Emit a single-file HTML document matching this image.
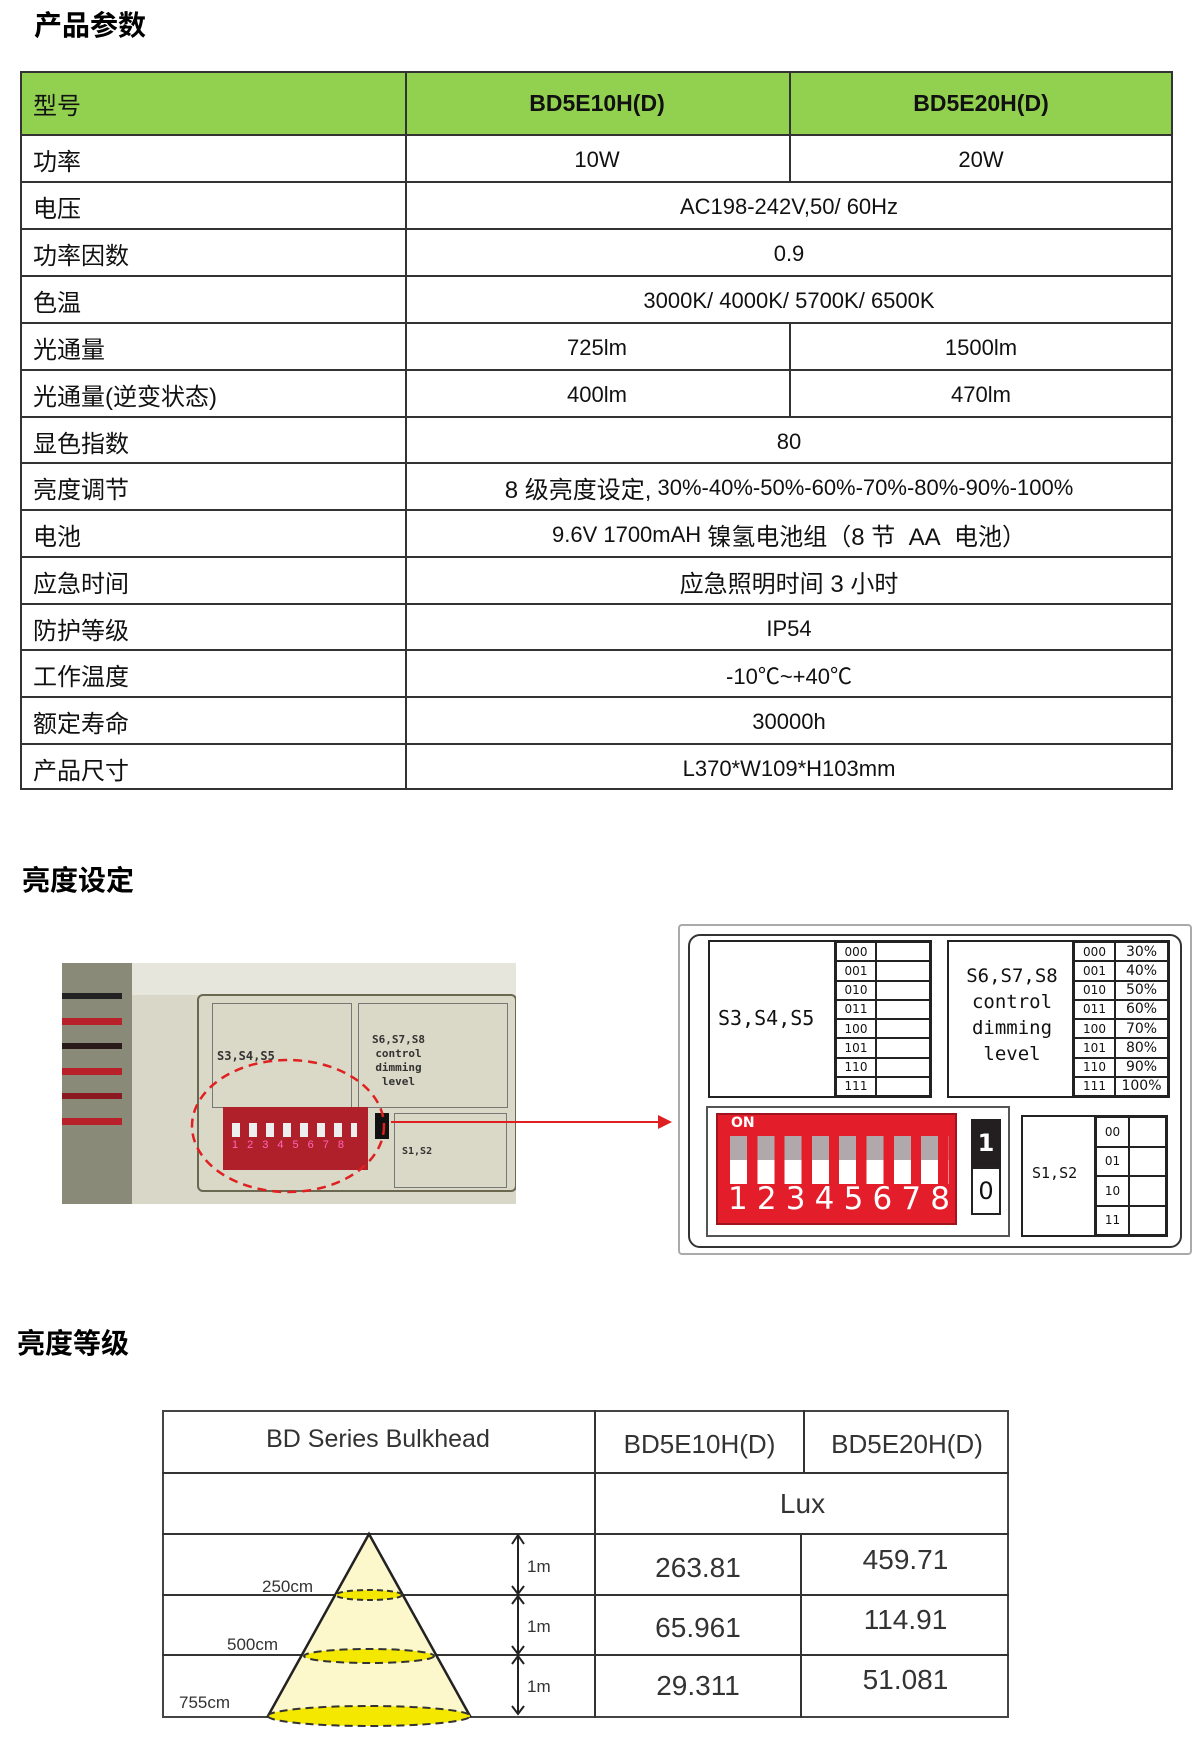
<!DOCTYPE html>
<html><head><meta charset="utf-8">
<style>
*{margin:0;padding:0;box-sizing:border-box}
body{width:1200px;height:1747px;background:#fff;position:relative;overflow:hidden;font-family:"Liberation Sans","Noto Sans CJK SC",sans-serif;color:#111}
.a{position:absolute}
.h{font-weight:bold;font-size:28px;font-family:"Liberation Sans","Noto Sans CJK SC",sans-serif;color:#000}
.c{position:absolute;display:flex;align-items:center;justify-content:center;font-size:22px}
.l{justify-content:flex-start;padding-left:13px;font-size:24px}
.hl{position:absolute;height:2px;background:#333}
.vl{position:absolute;width:2px;background:#333}
.sm{font-family:"DejaVu Sans Mono","Liberation Mono",monospace}
.g{position:absolute;display:grid;border:2px solid #222}
.g div{border:1px solid #222;display:flex;align-items:center;justify-content:center;font-size:12px;font-family:"DejaVu Sans",sans-serif}
</style></head><body>

<div class="a h" style="left:34px;top:4px">产品参数</div>

<!-- table 1 -->
<div class="a" style="left:20px;top:71px;width:1153px;height:64px;background:#92d050"></div>
<div class="a" style="left:20px;top:71px;width:1153px;height:719px;border:2px solid #333"></div>
<div class="vl" style="left:405px;top:71px;height:719px"></div>
<div class="vl" style="left:789px;top:71px;height:64px"></div>
<div class="vl" style="left:789px;top:134px;height:47px"></div>
<div class="vl" style="left:789px;top:322px;height:94px"></div>
<div class="hl" style="left:20px;top:134px;width:1153px"></div>
<div class="hl" style="left:20px;top:181px;width:1153px"></div>
<div class="hl" style="left:20px;top:228px;width:1153px"></div>
<div class="hl" style="left:20px;top:275px;width:1153px"></div>
<div class="hl" style="left:20px;top:322px;width:1153px"></div>
<div class="hl" style="left:20px;top:369px;width:1153px"></div>
<div class="hl" style="left:20px;top:416px;width:1153px"></div>
<div class="hl" style="left:20px;top:462px;width:1153px"></div>
<div class="hl" style="left:20px;top:509px;width:1153px"></div>
<div class="hl" style="left:20px;top:556px;width:1153px"></div>
<div class="hl" style="left:20px;top:603px;width:1153px"></div>
<div class="hl" style="left:20px;top:649px;width:1153px"></div>
<div class="hl" style="left:20px;top:696px;width:1153px"></div>
<div class="hl" style="left:20px;top:743px;width:1153px"></div>

<div class="c l" style="left:20px;top:71px;width:385px;height:64px">型号</div>
<div class="c" style="left:405px;top:71px;width:384px;height:64px;font-weight:bold;font-size:23px">BD5E10H(D)</div>
<div class="c" style="left:789px;top:71px;width:384px;height:64px;font-weight:bold;font-size:23px">BD5E20H(D)</div>

<div class="c l" style="left:20px;top:136px;width:385px;height:47px">功率</div>
<div class="c" style="left:405px;top:136px;width:384px;height:47px">10W</div>
<div class="c" style="left:789px;top:136px;width:384px;height:47px">20W</div>
<div class="c l" style="left:20px;top:183px;width:385px;height:47px">电压</div>
<div class="c" style="left:405px;top:183px;width:768px;height:47px">AC198-242V,50/ 60Hz</div>
<div class="c l" style="left:20px;top:230px;width:385px;height:47px">功率因数</div>
<div class="c" style="left:405px;top:230px;width:768px;height:47px">0.9</div>
<div class="c l" style="left:20px;top:277px;width:385px;height:47px">色温</div>
<div class="c" style="left:405px;top:277px;width:768px;height:47px">3000K/ 4000K/ 5700K/ 6500K</div>
<div class="c l" style="left:20px;top:324px;width:385px;height:47px">光通量</div>
<div class="c" style="left:405px;top:324px;width:384px;height:47px">725lm</div>
<div class="c" style="left:789px;top:324px;width:384px;height:47px">1500lm</div>
<div class="c l" style="left:20px;top:371px;width:385px;height:47px">光通量(逆变状态)</div>
<div class="c" style="left:405px;top:371px;width:384px;height:47px">400lm</div>
<div class="c" style="left:789px;top:371px;width:384px;height:47px">470lm</div>
<div class="c l" style="left:20px;top:418px;width:385px;height:47px">显色指数</div>
<div class="c" style="left:405px;top:418px;width:768px;height:47px">80</div>
<div class="c l" style="left:20px;top:464px;width:385px;height:47px">亮度调节</div>
<div class="c" style="left:405px;top:464px;width:768px;height:47px"><span style="font-size:24px">8 级亮度设定,</span>&nbsp;30%-40%-50%-60%-70%-80%-90%-100%</div>
<div class="c l" style="left:20px;top:511px;width:385px;height:47px">电池</div>
<div class="c" style="left:405px;top:511px;width:768px;height:47px">9.6V 1700mAH&nbsp; <span style="font-size:24px">镍氢电池组（8 节&nbsp; AA&nbsp; 电池）</span></div>
<div class="c l" style="left:20px;top:558px;width:385px;height:47px">应急时间</div>
<div class="c" style="left:405px;top:558px;width:768px;height:47px;font-size:24px">应急照明时间 3 小时</div>
<div class="c l" style="left:20px;top:605px;width:385px;height:47px">防护等级</div>
<div class="c" style="left:405px;top:605px;width:768px;height:47px">IP54</div>
<div class="c l" style="left:20px;top:651px;width:385px;height:47px">工作温度</div>
<div class="c" style="left:405px;top:651px;width:768px;height:47px">-10℃~+40℃</div>
<div class="c l" style="left:20px;top:698px;width:385px;height:47px">额定寿命</div>
<div class="c" style="left:405px;top:698px;width:768px;height:47px">30000h</div>
<div class="c l" style="left:20px;top:745px;width:385px;height:47px">产品尺寸</div>
<div class="c" style="left:405px;top:745px;width:768px;height:47px">L370*W109*H103mm</div>

<div class="a h" style="left:22px;top:859px">亮度设定</div>

<!-- photo -->
<div class="a" style="left:62px;top:963px;width:454px;height:241px;background:#d9d8c8;overflow:hidden">
  <div class="a" style="left:0;top:0;width:70px;height:241px;background:#8a8a78"></div>
  <div class="a" style="left:0;top:30px;width:60px;height:6px;background:#222"></div>
  <div class="a" style="left:0;top:55px;width:60px;height:7px;background:#b8202a"></div>
  <div class="a" style="left:0;top:80px;width:60px;height:6px;background:#2a1a1a"></div>
  <div class="a" style="left:0;top:105px;width:60px;height:7px;background:#b8202a"></div>
  <div class="a" style="left:0;top:130px;width:60px;height:6px;background:#8a1a20"></div>
  <div class="a" style="left:0;top:155px;width:60px;height:7px;background:#b8202a"></div>
  <div class="a" style="left:70px;top:0;width:384px;height:32px;background:#e6e6dc"></div>
  <div class="a" style="left:135px;top:31px;width:320px;height:198px;border:2px solid #6a6850;border-radius:6px;background:#dad8c6"></div>
  <div class="a" style="left:150px;top:40px;width:140px;height:105px;border:1px solid #777"></div>
  <div class="a sm" style="left:155px;top:86px;font-size:12px;font-weight:bold;color:#333">S3,S4,S5</div>
  <div class="a" style="left:296px;top:40px;width:150px;height:105px;border:1px solid #777"></div>
  <div class="a sm" style="left:310px;top:70px;font-size:11px;line-height:14px;color:#333;text-align:center;font-weight:bold">S6,S7,S8<br>control<br>dimming<br>level</div>
  <div class="a" style="left:161px;top:144px;width:145px;height:63px;background:#b0202a"></div>
  <div class="a" style="left:170px;top:160px;width:125px;height:14px;background:repeating-linear-gradient(90deg,#eee 0 8px,transparent 8px 17px)"></div>
  <div class="a" style="left:170px;top:176px;font-size:11px;letter-spacing:9px;color:#f6b">12345678</div>
  <div class="a" style="left:313px;top:150px;width:14px;height:26px;background:#111"></div>
  <div class="a" style="left:332px;top:150px;width:113px;height:75px;border:1px solid #777"></div>
  <div class="a sm" style="left:340px;top:183px;font-size:10px;color:#333;font-weight:bold">S1,S2</div>
</div>
<svg class="a" style="left:0;top:0" width="1200" height="1300">
  <ellipse cx="288" cy="1126" rx="96" ry="66" fill="none" stroke="#e02020" stroke-width="2.5" stroke-dasharray="9 6"/>
  <line x1="391" y1="1122" x2="660" y2="1122" stroke="#e02020" stroke-width="2"/>
  <polygon points="658,1115 672,1122 658,1129" fill="#e02020"/>
</svg>

<!-- diagram -->
<div class="a" style="left:678px;top:924px;width:514px;height:331px;border:2px solid #aaa;border-radius:4px"></div>
<div class="a" style="left:688px;top:934px;width:494px;height:314px;border:2px solid #333;border-radius:12px"></div>
<div class="a" style="left:708px;top:940px;width:224px;height:158px;border:2px solid #222"></div>
<div class="a sm" style="left:718px;top:1006px;font-size:20px">S3,S4,S5</div>
<div class="g" style="left:834px;top:940px;width:98px;height:158px;grid-template-columns:40px 1fr;grid-template-rows:repeat(8,1fr)">
<div>000</div><div></div><div>001</div><div></div><div>010</div><div></div><div>011</div><div></div><div>100</div><div></div><div>101</div><div></div><div>110</div><div></div><div>111</div><div></div></div>
<div class="a" style="left:947px;top:940px;width:223px;height:158px;border:2px solid #222"></div>
<div class="a sm" style="left:954px;top:963px;width:116px;font-size:19px;line-height:26px;text-align:center">S6,S7,S8<br>control<br>dimming<br>level</div>
<div class="g" style="left:1072px;top:940px;width:98px;height:158px;grid-template-columns:41px 1fr;grid-template-rows:repeat(8,1fr)">
<div>000</div><div style="font-size:14px">30%</div><div>001</div><div style="font-size:14px">40%</div><div>010</div><div style="font-size:14px">50%</div><div>011</div><div style="font-size:14px">60%</div><div>100</div><div style="font-size:14px">70%</div><div>101</div><div style="font-size:14px">80%</div><div>110</div><div style="font-size:14px">90%</div><div>111</div><div style="font-size:14px">100%</div></div>

<div class="a" style="left:706px;top:1106px;width:304px;height:131px;border:2px solid #555"></div>
<div class="a" style="left:716px;top:1113px;width:241px;height:112px;background:#e31e2a;border:2px solid #a0151d"></div>
<div class="a" style="left:731px;top:1115px;color:#fff;font-weight:bold;font-size:14px;font-family:'DejaVu Sans',sans-serif">ON</div>
<div class="a" style="left:730px;top:1136px;width:219px;height:48px;background:repeating-linear-gradient(90deg,#fff 0 17px,transparent 17px 27.3px)"></div>
<div class="a" style="left:730px;top:1136px;width:219px;height:24px;background:repeating-linear-gradient(90deg,#b0a8aa 0 17px,transparent 17px 27.3px)"></div>
<div class="a" style="left:728px;top:1181px;width:222px;display:flex;justify-content:space-between;color:#fff;font-size:31px;font-family:'DejaVu Sans',sans-serif;line-height:36px"><span>1</span><span>2</span><span>3</span><span>4</span><span>5</span><span>6</span><span>7</span><span>8</span></div>
<div class="a" style="left:971px;top:1119px;width:30px;height:48px;background:#231f20;color:#fff;font-size:24px;font-weight:bold;display:flex;align-items:center;justify-content:center;font-family:'DejaVu Sans',sans-serif">1</div>
<div class="a" style="left:971px;top:1167px;width:30px;height:48px;border:2px solid #222;font-size:24px;display:flex;align-items:center;justify-content:center;font-family:'DejaVu Sans',sans-serif">0</div>
<div class="a" style="left:1021px;top:1115px;width:147px;height:122px;border:2px solid #222"></div>
<div class="a sm" style="left:1032px;top:1164px;font-size:15px">S1,S2</div>
<div class="g" style="left:1094px;top:1115px;width:74px;height:122px;grid-template-columns:33px 1fr;grid-template-rows:repeat(4,1fr)">
<div>00</div><div></div><div>01</div><div></div><div>10</div><div></div><div>11</div><div></div></div>

<div class="a h" style="left:17px;top:1322px">亮度等级</div>

<!-- table 3 -->
<div class="a" style="left:162px;top:1410px;width:847px;height:308px;border:2px solid #444"></div>
<div class="vl" style="left:594px;top:1410px;height:308px"></div>
<div class="vl" style="left:803px;top:1410px;height:62px"></div>
<div class="vl" style="left:800px;top:1533px;height:185px"></div>
<div class="hl" style="left:162px;top:1472px;width:847px"></div>
<div class="hl" style="left:162px;top:1533px;width:847px"></div>
<div class="hl" style="left:162px;top:1594px;width:847px"></div>
<div class="hl" style="left:162px;top:1654px;width:847px"></div>
<div class="c" style="left:162px;top:1410px;width:432px;height:58px;font-size:25px;color:#333">BD Series Bulkhead</div>
<div class="c" style="left:596px;top:1414px;width:207px;height:60px;font-size:26px;color:#333">BD5E10H(D)</div>
<div class="c" style="left:805px;top:1414px;width:204px;height:60px;font-size:26px;color:#333">BD5E20H(D)</div>
<div class="c" style="left:596px;top:1474px;width:413px;height:60px;font-size:28px;color:#333">Lux</div>
<div class="c" style="left:596px;top:1538px;width:204px;height:60px;font-size:28px;color:#333">263.81</div>
<div class="c" style="left:802px;top:1530px;width:207px;height:60px;font-size:28px;color:#333">459.71</div>
<div class="c" style="left:596px;top:1598px;width:204px;height:60px;font-size:28px;color:#333">65.961</div>
<div class="c" style="left:802px;top:1590px;width:207px;height:60px;font-size:28px;color:#333">114.91</div>
<div class="c" style="left:596px;top:1656px;width:204px;height:60px;font-size:28px;color:#333">29.311</div>
<div class="c" style="left:802px;top:1650px;width:207px;height:60px;font-size:28px;color:#333">51.081</div>

<svg class="a" style="left:0;top:1500px" width="1200" height="247">
  <polygon points="369,34 470,216 268,216" fill="#fdf8cc" stroke="#222" stroke-width="2.5"/>
  <ellipse cx="369" cy="216" rx="101" ry="10" fill="#f4e800"/>
  <path d="M268,216 A101,10 0 0 1 470,216" fill="none" stroke="#333" stroke-width="2" stroke-dasharray="8 5"/>
  <path d="M268,216 A101,10 0 0 0 470,216" fill="none" stroke="#333" stroke-width="2" stroke-dasharray="8 5"/>
  <ellipse cx="369" cy="156" rx="65" ry="7" fill="#f4e800"/>
  <ellipse cx="369" cy="156" rx="65" ry="7" fill="none" stroke="#333" stroke-width="2" stroke-dasharray="8 5"/>
  <ellipse cx="369" cy="95" rx="33" ry="5" fill="#f4e800"/>
  <ellipse cx="369" cy="95" rx="33" ry="5" fill="none" stroke="#333" stroke-width="2" stroke-dasharray="6 4"/>
  <g stroke="#222" stroke-width="2" fill="none">
    <line x1="518" y1="36" x2="518" y2="214"/>
    <path d="M512,44 L518,35 L524,44"/><path d="M512,86 L518,94 L524,86"/>
    <path d="M512,104 L518,96 L524,104"/><path d="M512,146 L518,154 L524,146"/>
    <path d="M512,164 L518,156 L524,164"/><path d="M512,206 L518,214 L524,206"/>
  </g>
  <text x="527" y="72" font-size="17" fill="#333" font-family="Liberation Sans">1m</text>
  <text x="527" y="132" font-size="17" fill="#333" font-family="Liberation Sans">1m</text>
  <text x="527" y="192" font-size="17" fill="#333" font-family="Liberation Sans">1m</text>
  <text x="262" y="92" font-size="17" fill="#333" font-family="Liberation Sans">250cm</text>
  <text x="227" y="150" font-size="17" fill="#333" font-family="Liberation Sans">500cm</text>
  <text x="179" y="208" font-size="17" fill="#333" font-family="Liberation Sans">755cm</text>
</svg>
</body></html>
